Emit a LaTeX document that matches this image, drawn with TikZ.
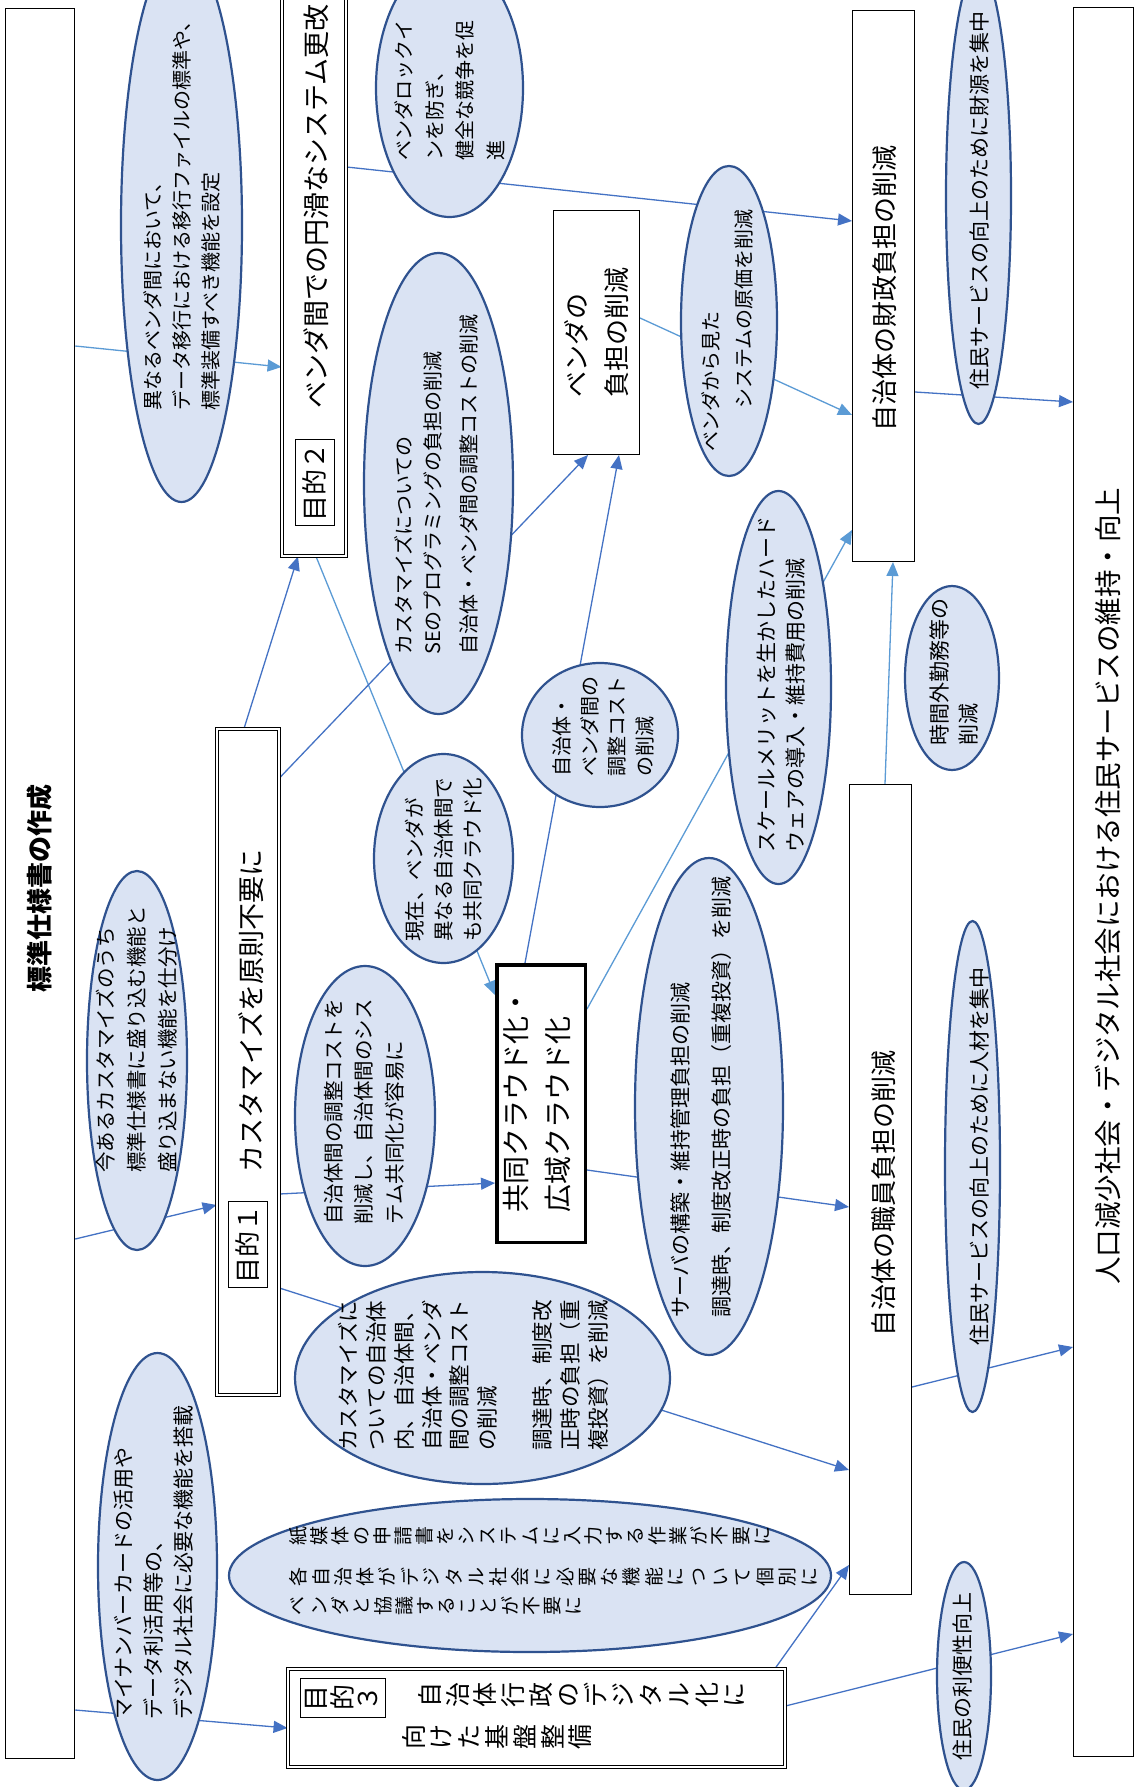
\documentclass[tikz,border=0pt]{standalone}
\usepackage{fontspec}
\setmainfont{Noto Sans CJK JP}
\usepackage{graphicx}
\usetikzlibrary{shapes.geometric,arrows.meta}
\definecolor{bubfill}{HTML}{DAE3F3}
\definecolor{bubline}{HTML}{2F528F}
\definecolor{arrdark}{HTML}{4472C4}
\definecolor{arrlight}{HTML}{5B9BD5}
\pgfdeclarelayer{bg}
\pgfsetlayers{bg,main}
\ExplSyntaxOn
\NewDocumentCommand\tatetext{O{21pt}m}
  {\tl_map_inline:nn {#2} {\makebox[#1]{\rotatebox[origin=c]{90}{\vphantom{国}##1}}}}
\ExplSyntaxOff

\begin{document}
\begin{tikzpicture}[x=1pt, y=-1pt,
    bubble/.style={ellipse, draw=bubline, fill=bubfill, line width=2.2pt, inner sep=0pt},
    vtext/.style 2 args={rotate=90, anchor=west, align=left, inner sep=0pt, font=\fontsize{#1}{#2}\selectfont},
    plainbox/.style={draw, fill=white, line width=1pt, inner sep=0pt},
    thickbox/.style={draw, fill=white, line width=3.5pt, inner sep=0pt},
    goalbox/.style={draw, fill=white, double, double distance=2.2pt, line width=0.9pt, inner sep=0pt},
    tagbox/.style={draw, line width=1pt, inner sep=0pt, font=\fontsize{26}{30}\selectfont},
    darkarr/.style={draw=arrdark, line width=1.3pt, -{Triangle[length=14pt,width=12pt]}},
    lightarr/.style={draw=arrlight, line width=1.3pt, -{Triangle[length=14pt,width=12pt]}}]
    \useasboundingbox (0,0) rectangle (1137,1787);

    \node[plainbox, minimum width=69pt, minimum height=1750pt] (spec) at (40.25,883.5) {};
    \node[vtext={26}{30}] (spectxt) at (40,993) {\bfseries 標準仕様書の作成};

    \node[goalbox, minimum width=64pt, minimum height=616pt] (obj2) at (314,248) {};
    \node[tagbox, minimum width=39pt, minimum height=86pt] (tag2) at (314.5,482) {\rotatebox{90}{目的２}};
    \node[vtext={27}{30}] (obj2txt) at (316,409) {ベンダ間での円滑なシステム更改};

    \node[goalbox, minimum width=62pt, minimum height=666pt] (obj1) at (248,1062) {};
    \node[tagbox, minimum width=39pt, minimum height=86pt] (tag1) at (247.5,1244.5) {\rotatebox{90}{目的１}};
    \node[vtext={27}{30}] (obj1txt) at (251,1173) {カスタマイズを原則不要に};

    \node[goalbox, minimum width=497pt, minimum height=98pt] (obj3) at (536.5,1718) {};
    \node[tagbox, minimum width=85pt, minimum height=39pt] (tag3) at (342.5,1698) {\tatetext[26pt]{目的３}};
    \node[anchor=west, inner sep=0pt, font=\fontsize{25}{30}\selectfont] (obj3a) at (416,1695) {\tatetext[27.7pt]{自治体行政のデジタル化に}};
    \node[anchor=west, inner sep=0pt, font=\fontsize{25}{30}\selectfont] (obj3b) at (400,1737) {\tatetext[27.7pt]{向けた基盤整備}};

    \node[plainbox, minimum width=86pt, minimum height=244pt] (vend) at (596.5,332.5) {};
    \node[vtext={26}{40}] (vendtxt) at (597,398) {ベンダの\\負担の削減};
    \node[plainbox, minimum width=62pt, minimum height=551pt] (fin) at (883.5,286) {};
    \node[vtext={26}{30}] (fintxt) at (885,432) {自治体の財政負担の削減};
    \node[plainbox, minimum width=62pt, minimum height=810pt] (staff) at (880.5,1189.5) {};
    \node[vtext={26}{30}] (stafftxt) at (884,1337) {自治体の職員負担の削減};
    \node[plainbox, minimum width=60pt, minimum height=1749pt] (society) at (1103.5,882) {};
    \node[vtext={27.5}{30}] (soctxt) at (1108,1285) {人口減少社会・デジタル社会における住民サービスの維持・向上};
    \node[thickbox, minimum width=88.5pt, minimum height=277.5pt] (cloud) at (541,1103.5) {};
    \node[vtext={28}{42}] (cloudtxt) at (537,1213) {共同クラウド化・\\広域クラウド化};

    \node[bubble, minimum width=121pt, minimum height=554pt] (mig) at (181.5,225) {};
    \node[vtext={20}{29}] (migtxt) at (182,411) {異なるベンダ間において、\\データ移行における移行ファイルの標準や、\\標準装備すべき機能を設定};
    \node[bubble, minimum width=147pt, minimum height=258pt] (lockin) at (449.5,88) {};
    \node[vtext={20}{30.5}] (lockintxt) at (450,161) {ベンダロックイ\\ンを防ぎ、\\健全な競争を促\\進};
    \node[bubble, minimum width=149pt, minimum height=461pt] (seload) at (438.5,483.5) {};
    \node[vtext={20}{29}] (seloadtxt) at (436.5,655) {カスタマイズについての\\SEのプログラミングの負担の削減\\[7pt]自治体・ベンダ間の調整コストの削減};
    \node[bubble, minimum width=96pt, minimum height=310pt] (vcost) at (729,321) {};
    \node[vtext={20}{33}] (vcosttxt) at (727.5,452) {ベンダから見た\\\hspace*{43pt}システムの原価を削減};
    \node[bubble, minimum width=65pt, minimum height=456pt] (fund) at (978.5,196) {};
    \node[vtext={21}{30}] (fundtxt) at (979.5,390) {住民サービスの向上のために財源を集中};
    \node[bubble, minimum width=139pt, minimum height=209pt] (current) at (443.5,858.5) {};
    \node[vtext={20.5}{29}] (currenttxt) at (443.5,942) {現在、ベンダが\\異なる自治体間で\\も共同クラウド化};
    \node[bubble, minimum width=156pt, minimum height=144pt] (adjust) at (600,735) {};
    \node[vtext={20}{27.7}] (adjusttxt) at (603.5,777) {自治体・\\ベンダ間の\\調整コスト\\の削減};
    \node[bubble, minimum width=100pt, minimum height=379pt] (sort) at (137,1060.5) {};
    \node[vtext={20.5}{31}] (sorttxt) at (136.5,1173) {今あるカスタマイズのうち\\標準仕様書に盛り込む機能と\\盛り込まない機能を仕分け};
    \node[bubble, minimum width=140pt, minimum height=300pt] (share) at (365,1116) {};
    \node[vtext={20.5}{30.5}] (sharetxt) at (364,1225) {自治体間の調整コストを\\削減し、自治体間のシス\\テム共同化が容易に};
    \node[bubble, minimum width=105pt, minimum height=393pt] (scale) at (778.5,687.5) {};
    \node[vtext={21}{29.5}] (scaletxt) at (781,853) {スケールメリットを生かしたハード\\ウェアの導入・維持費用の削減};
    \node[bubble, minimum width=94pt, minimum height=184pt] (overtime) at (952,678) {};
    \node[vtext={21}{29.5}] (overtimetxt) at (954,746) {時間外勤務等の\\削減};
    \node[bubble, minimum width=148pt, minimum height=497pt] (server) at (709,1106.5) {};
    \node[vtext={21}{29}] (servertxt) at (701.5,1318) {サーバの構築・維持管理負担の削減\\[12pt]調達時、制度改正時の負担（重複投資）を削減};
    \node[bubble, minimum width=55pt, minimum height=491pt] (talent) at (972.5,1166.5) {};
    \node[vtext={21}{30}] (talenttxt) at (979.5,1346) {住民サービスの向上のために人材を集中};
    \node[bubble, minimum width=375pt, minimum height=212pt] (custom) at (482.5,1378) {};
    \node[vtext={21.5}{27.7}] (customtxt) at (473.5,1451) {カスタマイズに\\ついての自治体\\内、自治体間、\\自治体・ベンダ\\間の調整コスト\\の削減\\[27.7pt]調達時、制度改\\正時の負担（重\\複投資）を削減};
    \node[bubble, minimum width=602pt, minimum height=153pt] (paper) at (530,1575.5) {};
    \node[align=left, inner sep=0pt, font=\fontsize{19}{29}\selectfont] (papertxt) at (554,1571) {\tatetext[21.1pt]{紙媒体の申請書をシステムに入力する作業が不要に}\\[12pt]\tatetext[22.2pt]{各自治体がデジタル社会に必要な機能について個別に}\\\tatetext[21.2pt]{ベンダと協議することが不要に}};
    \node[bubble, minimum width=119pt, minimum height=427pt] (mynum) at (157.5,1566.5) {};
    \node[vtext={21}{30}] (mynumtxt) at (154,1720) {マイナンバーカードの活用や\\データ利活用等の、\\デジタル社会に必要な機能を搭載};
    \node[bubble, minimum width=54pt, minimum height=228pt] (conv) at (964,1676) {};
    \node[vtext={21}{30}] (convtxt) at (963,1761) {住民の利便性向上};

    \begin{pgfonlayer}{bg}
    \fill[white] (0,0) rectangle (1137,1787);
    \draw[lightarr] (spec.east |- 0,346) -- (obj2.west |- 0,367);
    \draw[darkarr] (obj2.east |- 0,167) -- (fin.west |- 0,221);
    \draw[lightarr] (vend.east |- 0,318) -- (fin.west |- 0,415);
    \draw[darkarr] (fin.east |- 0,392) -- (society.west |- 0,402);
    \draw[darkarr] (obj1.north -| 244,0) -- (obj2.south -| 298,0);
    \draw[lightarr] (obj2.south -| 316,0) -- (cloud.west |- 0,995);
    \draw[darkarr] (obj1.east |- 0,778) -- (vend.south -| 588,0);
    \draw[darkarr] (cloud.north -| 525,0) -- (vend.south -| 619,0);
    \draw[lightarr] (cloud.east |- 0,1009) -- (fin.west |- 0,530);
    \draw[lightarr] (staff.north -| 885,0) -- (fin.south -| 893,0);
    \draw[darkarr] (spec.east |- 0,1239) -- (obj1.west |- 0,1205);
    \draw[darkarr] (obj1.east |- 0,1194) -- (cloud.west |- 0,1183);
    \draw[darkarr] (cloud.east |- 0,1170) -- (staff.west |- 0,1207);
    \draw[darkarr] (staff.east |- 0,1387) -- (society.west |- 0,1347);
    \draw[darkarr] (obj1.east |- 0,1288) -- (staff.west |- 0,1470);
    \draw[darkarr] (obj3.north -| 775,0) -- (staff.west |- 0,1565);
    \draw[darkarr] (obj3.east |- 0,1706) -- (society.west |- 0,1634);
    \draw[darkarr] (spec.east |- 0,1710) -- (obj3.west |- 0,1728);
    \end{pgfonlayer}
\end{tikzpicture}
\end{document}
